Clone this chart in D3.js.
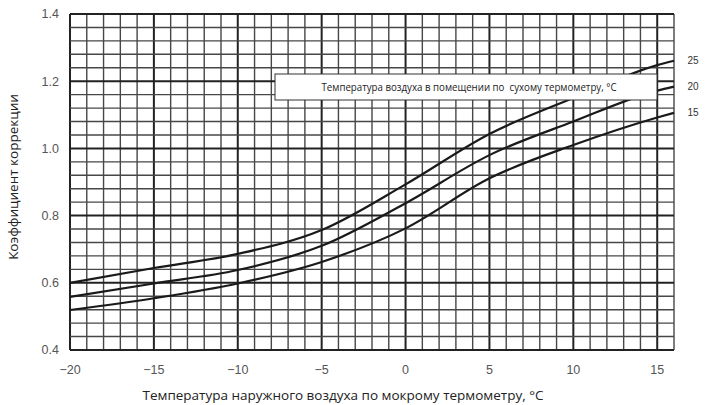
<!DOCTYPE html>
<html>
<head>
<meta charset="utf-8">
<script src="https://cdn.jsdelivr.net/npm/d3@7"></script>
<style>
    body { margin: 0; background: #fff; }
    svg { display: block; }
</style>
</head>
<body>
<div class="graph"></div>
<script>
// outdoor wet-bulb temperature, °C
var temps = [-20, -15, -10, -5, 0, 5, 10, 15, 16];
// correction factor for indoor dry-bulb temperature 25 / 20 / 15 °C
var series25 = [0.600, 0.644, 0.686, 0.757, 0.893, 1.043, 1.150, 1.248, 1.261];
var series20 = [0.558, 0.598, 0.638, 0.710, 0.837, 0.980, 1.080, 1.172, 1.184];
var series15 = [0.519, 0.554, 0.598, 0.662, 0.762, 0.911, 1.010, 1.092, 1.106];
var seriesNames = ['25', '20', '15'];
var xTicks = [-20, -15, -10, -5, 0, 5, 10, 15];
var yTicks = [0.4, 0.6, 0.8, 1.0, 1.2, 1.4];
var legendTitle = 'Температура воздуха в помещении по  сухому термометру, °C';
var xTitle = 'Температура наружного воздуха по мокрому термометру, °C';
var yTitle = 'Коэффициент коррекции';

(() => {
var margin = {top: 14, right: 34, bottom: 55, left: 70},
    width = 708,
    height = 405;

var svg = d3.select('div.graph')
    .append('svg')
        .attr('width', width)
        .attr('height', height);

var x = d3.scaleLinear()
    .domain([-20, 16])
    .range([margin.left, width - margin.right]);

var y = d3.scaleLinear()
    .domain([0.4, 1.4])
    .range([height - margin.bottom, margin.top]);

// grid: minor every 1 °C / 0.04, major every 5 °C / 0.2
var grid = svg.append('g');
d3.range(-20, 16.5, 1).forEach((v) => {
    var major = (v % 5 === 0);
    grid.append('line')
        .attr('x1', x(v)).attr('x2', x(v))
        .attr('y1', y(0.4)).attr('y2', y(1.4))
        .style('stroke', major ? '#222' : '#474747')
        .style('stroke-width', major ? 2 : 1.4);
});
d3.range(0, 26).forEach((i) => {
    var v = 0.4 + i * 0.04;
    var major = (i % 5 === 0);
    grid.append('line')
        .attr('x1', x(-20)).attr('x2', x(16))
        .attr('y1', y(v)).attr('y2', y(v))
        .style('stroke', major ? '#222' : '#474747')
        .style('stroke-width', major ? 2 : 1.4);
});

// tick labels
svg.append('g')
    .selectAll('text')
    .data(yTicks)
    .enter()
    .append('text')
        .attr('x', margin.left - 11)
        .attr('y', (d) => y(d))
        .attr('dy', '0.35em')
        .attr('text-anchor', 'end')
        .style('font-family', '"Liberation Sans", Arial, sans-serif')
        .style('font-size', '12.5px')
        .style('fill', '#555')
        .text((d) => d3.format('.1f')(d));

svg.append('g')
    .selectAll('text')
    .data(xTicks)
    .enter()
    .append('text')
        .attr('x', (d) => x(d))
        .attr('y', height - margin.bottom + 24)
        .attr('text-anchor', 'middle')
        .style('font-family', '"Liberation Sans", Arial, sans-serif')
        .style('font-size', '12.5px')
        .style('fill', '#555')
        .text((d) => d3.format('d')(d).replace('-', '\u2212'));

// axis titles
svg.append('text')
    .attr('x', 343)
    .attr('y', 400)
    .attr('text-anchor', 'middle')
    .style('font-family', '"Open Sans", sans-serif')
    .style('font-size', '13.5px')
    .style('fill', '#222')
    .text(xTitle);

svg.append('text')
    .attr('transform', 'translate(18,177) rotate(-90)')
    .attr('text-anchor', 'middle')
    .style('font-family', '"Open Sans", sans-serif')
    .style('font-size', '13.5px')
    .style('fill', '#222')
    .text(yTitle);

// curves
var line = d3.line()
    .x((d) => x(d[0]))
    .y((d) => y(d[1]))
    .curve(d3.curveMonotoneX);

var allSeries = [series25, series20, series15];
svg.append('g')
    .selectAll('path')
    .data(allSeries)
    .enter()
    .append('path')
        .attr('d', (d) => line(d3.zip(temps, d)))
        .style('fill', 'none')
        .style('stroke', '#1a1a1a')
        .style('stroke-width', 2.2);

// series labels at right end
svg.append('g')
    .selectAll('text')
    .data(seriesNames)
    .enter()
    .append('text')
        .attr('x', x(16) + 19)
        .attr('y', (d, i) => y(allSeries[i][allSeries[i].length - 1]))
        .attr('dy', '0.35em')
        .attr('text-anchor', 'middle')
        .style('font-family', '"Liberation Sans", Arial, sans-serif')
        .style('font-size', '10px')
        .style('fill', '#333')
        .text((d) => d);

// legend box
var box = svg.append('g');
box.append('rect')
    .attr('x', 275)
    .attr('y', 74)
    .attr('width', 382)
    .attr('height', 26)
    .style('fill', '#fff')
    .style('stroke', '#333')
    .style('stroke-width', 1);
box.append('text')
    .attr('x', 469)
    .attr('y', 87)
    .attr('dy', '0.35em')
    .attr('text-anchor', 'middle')
    .attr('textLength', 295)
    .attr('lengthAdjust', 'spacingAndGlyphs')
    .style('white-space', 'pre')
    .style('font-family', '"Open Sans", sans-serif')
    .style('font-size', '11px')
    .style('fill', '#222')
    .text(legendTitle);
})();
</script>
</body>
</html>
